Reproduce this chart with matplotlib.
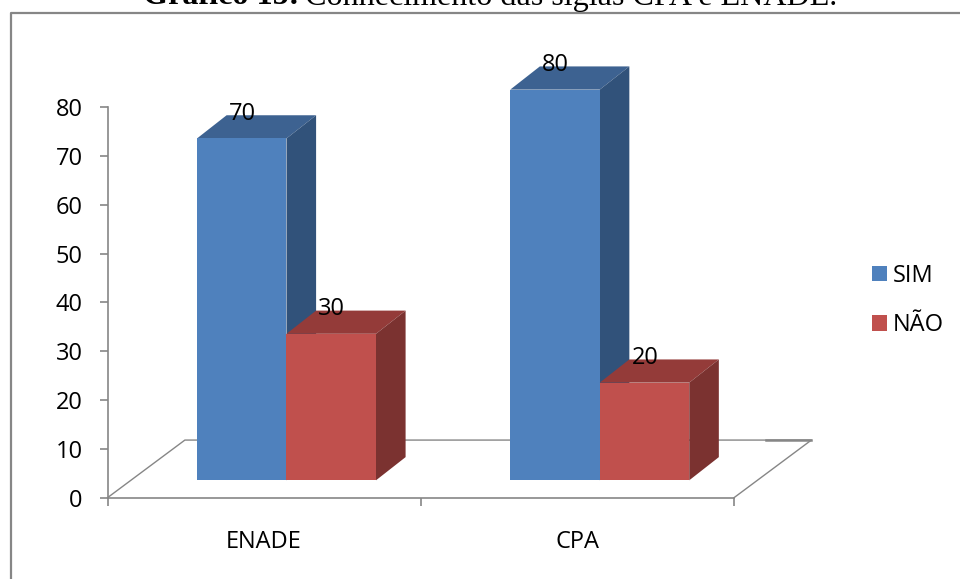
import matplotlib.pyplot as plt
from matplotlib.lines import Line2D
from matplotlib.patches import Polygon


CATEGORIES = ['ENADE', 'CPA']
SIM_VALUES = [70, 80]
NAO_VALUES = [30, 20]
Y_TICKS = [0, 10, 20, 30, 40, 50, 60, 70, 80]

W, H = 960, 579
GRAY = '#868686'
FONT = 'Open Sans'

# 3d look, in data units
BAR_WIDTH = 0.2857
BAR_FLOOR = 3.56
BAR_DX = 0.0945
BAR_DY = 4.75
FLOOR_DX = 0.247
FLOOR_DY = 11.8


def draw_bars(ax, centers, values, offset, color, top_color, side_color, label, zorder):
    lefts = [c + offset for c in centers]
    bars = ax.bar(lefts, values, BAR_WIDTH, bottom=BAR_FLOOR, align='edge', color=color,
                  label=label, zorder=zorder + 2, clip_on=False)
    for left, value in zip(lefts, values):
        right = left + BAR_WIDTH
        top = BAR_FLOOR + value
        ax.add_patch(Polygon([(left, top), (right, top), (right + BAR_DX, top + BAR_DY), (left + BAR_DX, top + BAR_DY)],
                             closed=True, color=top_color, lw=0, clip_on=False, zorder=zorder))
        ax.add_patch(Polygon([(right, BAR_FLOOR), (right + BAR_DX, BAR_FLOOR + BAR_DY), (right + BAR_DX, top + BAR_DY), (right, top)],
                             closed=True, color=side_color, lw=0, clip_on=False, zorder=zorder + 1))
        ax.annotate(str(value), (left + BAR_WIDTH / 2, top), xytext=(0.5, 17.6), textcoords='offset points',
                    ha='center', va='center', fontsize=17, family=FONT, color='black',
                    annotation_clip=False, zorder=20)
    return bars


def main():
    fig = plt.figure(figsize=(W / 100, H / 100), dpi=100, facecolor='white')
    ax = fig.add_axes([107.5 / W, 1 - 497.7 / H, (734 - 107.5) / W, (497.7 - 107) / H])
    ax.set_xlim(0, 2)
    ax.set_ylim(0, 80)
    ax.patch.set_alpha(0)

    # outer frame, cut off at the right and at the bottom
    fig.add_artist(Line2D([10.8 / W, 10.8 / W, 1], [0, 1 - 13 / H, 1 - 13 / H], color=GRAY, lw=1.6))

    # floor of the 3d chart
    ax.plot([0, FLOOR_DX, 2 + FLOOR_DX, 2], [0, FLOOR_DY, FLOOR_DY, 0], color=GRAY, lw=1.0, clip_on=False, zorder=1)
    ax.plot([2 + FLOOR_DX - 0.145, 2 + FLOOR_DX], [FLOOR_DY, FLOOR_DY], color=GRAY, lw=1.8, clip_on=False, zorder=1)

    centers = [0.2857, 1.2857]
    draw_bars(ax, centers, SIM_VALUES, 0, '#4F81BD', '#3D6291', '#31527A', 'SIM', 3)
    draw_bars(ax, centers, NAO_VALUES, BAR_WIDTH, '#C0504D', '#943B39', '#7B3230', 'NÃO', 7)

    ax.spines['top'].set_visible(False)
    ax.spines['right'].set_visible(False)
    for side in ['left', 'bottom']:
        ax.spines[side].set_color(GRAY)
        ax.spines[side].set_linewidth(1.2)

    ax.set_yticks(Y_TICKS)
    ax.set_xticks([0, 1, 2])
    ax.tick_params(axis='both', color=GRAY, width=1.2, length=5.8)
    ax.tick_params(axis='y', labelsize=17, pad=12)
    ax.set_xticklabels([])
    for label in ax.get_yticklabels():
        label.set_family(FONT)
    for i, name in enumerate(CATEGORIES):
        ax.annotate(name, (i + 0.5, 0), xytext=(0, -32), textcoords='offset points',
                    ha='center', va='center', fontsize=17, family=FONT, annotation_clip=False)

    ax.legend(loc='center left', bbox_to_anchor=(872 / W, 1 - 300.5 / H), bbox_transform=fig.transFigure,
              frameon=False, prop={'family': FONT, 'size': 17}, handlelength=0.64, handleheight=0.64,
              handletextpad=0.25, labelspacing=1.08, borderpad=0, borderaxespad=0)

    # title is cut by the top of the picture, as in the original
    title = fig.text(143 / W, 1 - 4.5 / H, 'Gráfico 15:', family='Liberation Serif', weight='bold',
                     fontsize=23.1, ha='left', va='baseline')
    width = title.get_window_extent(fig.canvas.get_renderer()).width
    fig.text((143 + width + 6) / W, 1 - 4.5 / H, 'Conhecimento das siglas CPA e ENADE.',
             family='Liberation Serif', fontsize=23.1, ha='left', va='baseline')

    plt.savefig('out.png', dpi=100)
    plt.close()


if __name__ == '__main__':
    main()
